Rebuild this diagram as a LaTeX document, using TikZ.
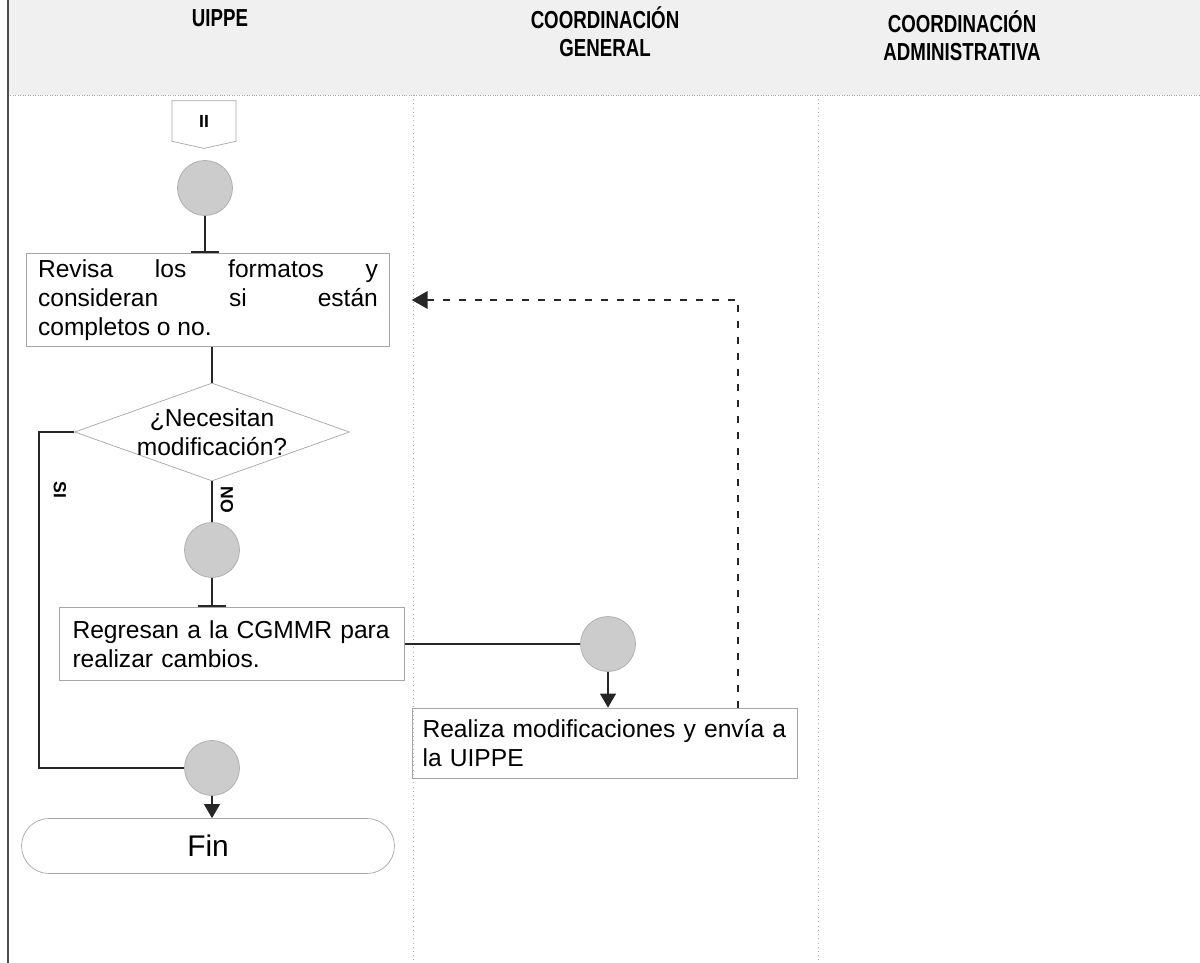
\documentclass[tikz,border=0pt]{standalone}
\usepackage{fontspec}
\setmainfont{Liberation Sans}
\usetikzlibrary{shapes.geometric,shapes.symbols,arrows.meta,positioning}

\begin{document}
\begin{tikzpicture}[x=0.02cm, y=-0.02cm,
        caja/.style={draw=gray!70, thin, font=\fontsize{14}{16.5}\selectfont},
        nodo/.style={circle, draw=gray!65, fill=gray!40, minimum size=1.1cm, inner sep=0pt},
        flujo/.style={draw=black!85, line width=1.1pt},
        titulo/.style={font=\bfseries\fontsize{14}{16}\selectfont, align=center, xscale=0.76},
        etiqueta/.style={font=\bfseries\fontsize{10}{12}\selectfont, rotate=-90}]
    \useasboundingbox (0,0) rectangle (1200,963);
    % encabezado y carriles
    \fill[gray!12] (8,0) rectangle (1200,95);
    \draw[gray!70, densely dotted] (8,95) -- (1200,95);
    \draw[black!70, line width=0.8pt] (8,0) -- (8,963);
    \foreach \x in {413, 818}
        \draw[gray!60, dotted] (\x,95) -- (\x,963);
    \node[titulo] (uippe) at (220,18) {UIPPE};
    \node[titulo] (general) at (605,32) {COORDINACIÓN\\GENERAL};
    \node[titulo] (admin) at (962,36) {COORDINACIÓN\\ADMINISTRATIVA};

    % nodos
    \node[signal, signal to=south, signal pointer angle=155, draw=gray!70,
          minimum width=1.28cm, minimum height=0.86cm, font=\bfseries] (pag) at (204,121) {II};
    \node[nodo] (c1) at (205,188) {};
    \node[caja, align=justify, text width=6.8cm, inner xsep=0.23cm, minimum height=1.8cm] (revisa) at (208,300)
        {Revisa los formatos y\linebreak consideran si están\linebreak completos o no.};
    \node[diamond, draw=gray!70, aspect=2.8, inner sep=-3pt, minimum width=5.5cm, minimum height=1.96cm,
          align=center, font=\fontsize{14}{16.5}\selectfont] (decision) at (212,432) {¿Necesitan\\modificación?};
    \node[etiqueta] (si) at (60,490) {SI};
    \node[etiqueta] (no) at (227,500) {NO};
    \node[nodo] (c2) at (212,550) {};
    \node[caja, align=left, text width=6.38cm, inner xsep=0.26cm, minimum height=1.46cm] (regresan) at (232,644)
        {Regresan a la CGMMR para\\realizar cambios.};
    \node[nodo] (c3) at (608,644) {};
    \node[caja, align=left, text width=7.3cm, inner xsep=0.2cm, minimum height=1.4cm] (realiza) at (605,743)
        {Realiza modificaciones y envía a\\la UIPPE};
    \node[nodo] (c4) at (212,768) {};
    \node[draw=gray!70, rounded corners=0.55cm, minimum width=7.46cm, minimum height=1.1cm,
          font=\fontsize{17}{20}\selectfont] (fin) at (208,846) {Fin};

    % conectores
    \coordinate (vuelta) at (738,0);
    \draw[flujo, -{Bar[width=16pt]}] (c1) -- (c1 |- revisa.north);
    \draw[flujo] (decision |- revisa.south) -- (decision.north);
    \draw[flujo] (decision) -- (c2);
    \draw[flujo, -{Bar[width=16pt]}] (c2) -- (c2 |- regresan.north);
    \draw[flujo] (regresan) -- (c3);
    \draw[flujo, -{Triangle[width=9pt,length=8pt]}] (c3) -- (c3 |- realiza.north);
    \draw[flujo, dash pattern=on 4pt off 5pt, -{Triangle[width=10pt,length=9pt]}]
        (realiza.north -| vuelta) |- ([xshift=0.44cm]revisa.east);
    \draw[flujo] (decision.west) -- ++(-35,0) |- (c4);
    \draw[flujo, -{Triangle[width=9pt,length=8pt]}] (c4) -- (c4 |- fin.north);
\end{tikzpicture}
\end{document}
